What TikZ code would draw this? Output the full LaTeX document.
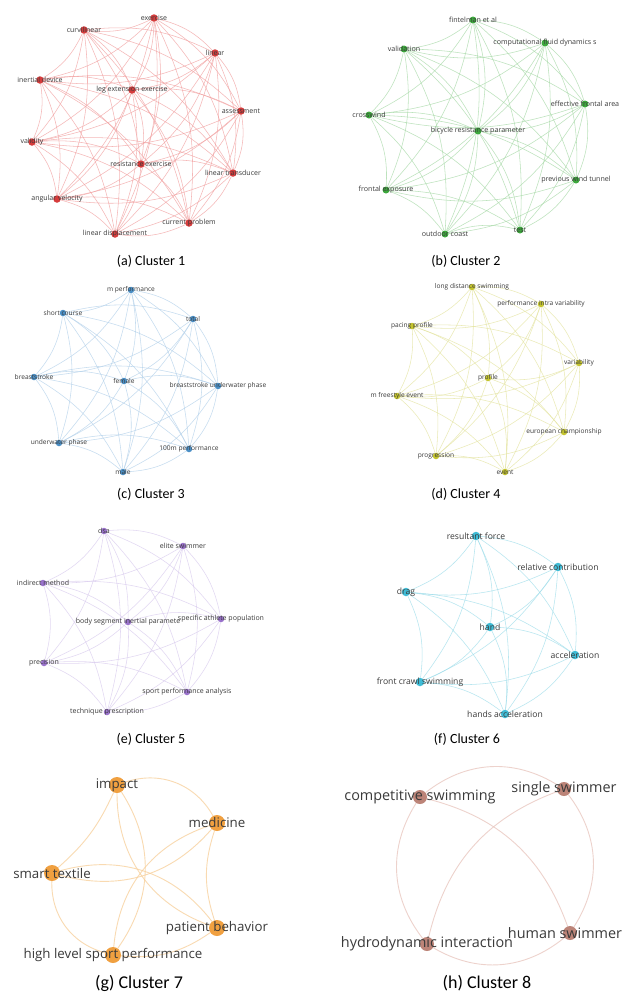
\documentclass[tikz,border=0pt]{standalone}
\usepackage{fontspec}
\setmainfont{Carlito}
\newfontfamily\osans{Open Sans}
\usetikzlibrary{backgrounds}
\pgfdeclarelayer{bgzero}
\pgfsetlayers{bgzero,background,main}
\definecolor{nA}{HTML}{D63C3C}\definecolor{eA}{HTML}{F2A0A0}
\definecolor{nB}{HTML}{3DA83D}\definecolor{eB}{HTML}{A6D9A6}
\definecolor{nC}{HTML}{4A8FC6}\definecolor{eC}{HTML}{B2D0EA}
\definecolor{nD}{HTML}{C4C42E}\definecolor{eD}{HTML}{E4E4A0}
\definecolor{nE}{HTML}{9A72CC}\definecolor{eE}{HTML}{D8CAEE}
\definecolor{nF}{HTML}{3FBCD6}\definecolor{eF}{HTML}{9EDDEA}
\definecolor{nG}{HTML}{F0A040}\definecolor{eG}{HTML}{F7CE98}
\definecolor{nH}{HTML}{BC8478}\definecolor{eH}{HTML}{E8C4BC}
\definecolor{labc}{HTML}{3A3A3A}
\newcommand\fullgraph[2]{%
  \foreach \pa [count=\pi] in {#2}{%
    \foreach \pb [count=\pj] in {#2}{%
      \ifnum\pj>\pi \draw[#1] (\pa) to[bend left=16] (\pb);\fi}}}
\tikzset{
  dot/.style={circle,inner sep=0pt,fill=#1},
  lab/.style={text=labc,inner sep=0pt,font=\osans\fontsize{#1}{#1}\selectfont},
  edge/.style={draw=#1,line width=0.55pt,opacity=0.75},
  capt/.style={font=\fontsize{#1}{#1}\selectfont,text=black,inner sep=0pt},
}
\begin{document}
\begin{tikzpicture}[x=1pt,y=-1pt]
\begin{pgfonlayer}{bgzero}
\fill[white] (0,0) rectangle (625,994);
\end{pgfonlayer}
\useasboundingbox (0,0) rectangle (625,994);
% ---------- Cluster 1
\tikzset{dA/.style={dot=nA,minimum size=7.5pt,label={[lab=7.0]center:#1}}}
\node[dA=exercise] (a1) at (154,18) {};
\node[dA=curvilinear] (a2) at (84,30) {};
\node[dA=linear] (a3) at (215,53) {};
\node[dA=inertial device] (a4) at (40,80) {};
\node[dA=leg extension exercise] (a5) at (132,90) {};
\node[dA=assessment] (a6) at (241,111) {};
\node[dA=validity] (a7) at (32,142) {};
\node[dA=resistance exercise] (a8) at (141,164) {};
\node[dA=linear transducer] (a9) at (233,173) {};
\node[dA=angular velocity] (a10) at (57,199) {};
\node[dA=current problem] (a11) at (189,223) {};
\node[dA=linear displacement] (a12) at (115,234) {};
% ---------- Cluster 2
\tikzset{dB/.style={dot=nB,minimum size=7pt,label={[lab=7.1]center:#1}}}
\node[dB=fintelman et al] (b1) at (473,20) {};
\node[dB=computational fluid dynamics s] (b2) at (545,43) {};
\node[dB=validation] (b3) at (404,49) {};
\node[dB=effective frontal area] (b4) at (585,104) {};
\node[dB=crosswind] (b5) at (369,115) {};
\node[dB=bicycle resistance parameter] (b6) at (478,131) {};
\node[dB=previous wind tunnel] (b7) at (576,180) {};
\node[dB=frontal exposure] (b8) at (386,190) {};
\node[dB=outdoor coast] (b9) at (445,234) {};
\node[dB=test] (b10) at (520,230) {};
% ---------- Cluster 3
\tikzset{dC/.style={dot=nC,minimum size=6.5pt,label={[lab=6.6]center:#1}}}
\node[dC=m performance] (c1) at (131,290) {};
\node[dC=short course] (c2) at (63,313) {};
\node[dC=total] (c3) at (193,319) {};
\node[dC=breaststroke] (c4) at (34,377) {};
\node[dC=female] (c5) at (124,381) {};
\node[dC=breaststroke underwater phase] (c6) at (218,386) {};
\node[dC=underwater phase] (c7) at (59,443) {};
\node[dC=100m performance] (c8) at (189,449) {};
\node[dC=male] (c9) at (123,472) {};
% ---------- Cluster 4
\tikzset{dD/.style={dot=nD,minimum size=6.5pt,label={[lab=6.6]center:#1}}}
\node[dD=long distance swimming] (d1) at (472,287) {};
\node[dD=performance intra variability] (d2) at (541,304) {};
\node[dD=pacing profile] (d3) at (412,326) {};
\node[dD=variability] (d4) at (579,363) {};
\node[dD=profile] (d5) at (488,378) {};
\node[dD=m freestyle event] (d6) at (397,396) {};
\node[dD=european championship] (d7) at (564,432) {};
\node[dD=progression] (d8) at (436,456) {};
\node[dD=event] (d9) at (505,472) {};
% ---------- Cluster 5
\tikzset{dE/.style={dot=nE,minimum size=6.5pt,label={[lab=7.0]center:#1}}}
\node[dE=dsa] (e1) at (104,531) {};
\node[dE=elite swimmer] (e2) at (183,546) {};
\node[dE=indirect method] (e3) at (43,583) {};
\node[dE=body segment inertial paramete] (e4) at (128,622) {};
\node[dE=specific athlete population] (e5) at (221,619) {};
\node[dE=precision] (e6) at (44,663) {};
\node[dE=sport performance analysis] (e7) at (187,692) {};
\node[dE=technique prescription] (e8) at (107,712) {};
% ---------- Cluster 6
\tikzset{dF/.style={dot=nF,minimum size=8.5pt,label={[lab=8.6]center:#1}}}
\node[dF=resultant force] (f1) at (476,536) {};
\node[dF=relative contribution] (f2) at (558,567) {};
\node[dF=drag] (f3) at (406,592) {};
\node[dF=hand] (f4) at (490,627) {};
\node[dF=acceleration] (f5) at (575,655) {};
\node[dF=front crawl swimming] (f6) at (420,682) {};
\node[dF=hands acceleration] (f7) at (505,714) {};
% ---------- Cluster 7
\tikzset{dG/.style={dot=nG,minimum size=16pt,label={[lab=13.3]center:#1}}}
\node[dG=impact] (g1) at (117,785) {};
\node[dG=medicine] (g2) at (217,823) {};
\node[dG=smart textile] (g3) at (52,873) {};
\node[dG=patient behavior] (g4) at (217,928) {};
\node[dG=high level sport performance] (g5) at (113,955) {};
% ---------- Cluster 8
\tikzset{dH/.style={dot=nH,minimum size=14pt,label={[lab=14.4]center:#1}}}
\node[dH=competitive swimming] (h1) at (420,797) {};
\node[dH=single swimmer] (h2) at (564,789) {};
\node[dot=nH,minimum size=14pt,label={[lab=14.4,xshift=-5pt]center:human swimmer}] (h3) at (570,933) {};
\node[dH=hydrodynamic interaction] (h4) at (427,944) {};
% ---------- edges
\begin{pgfonlayer}{background}
\fullgraph{edge=eA}{a1,a2,a3,a4,a5,a6,a7,a8,a9,a10,a11,a12}
\fullgraph{edge=eB}{b1,b2,b3,b4,b5,b6,b7,b8,b9,b10}
\fullgraph{edge=eC}{c1,c2,c3,c4,c5,c6,c7,c8,c9}
\fullgraph{edge=eD}{d1,d2,d3,d4,d5,d6,d7,d8,d9}
\fullgraph{edge=eE}{e1,e2,e3,e4,e5,e6,e7,e8}
\fullgraph{edge=eF}{f1,f2,f3,f4,f5,f6,f7}
\begin{scope}[edge=eG,line width=0.9pt]
\draw (g1) to[bend left=40] (g2);
\draw (g2) to[bend right=18] (g4);
\draw (g4) to[bend left=20] (g5);
\draw (g5) to[bend left=38] (g3);
\draw (g3) to[bend right=12] (g1);
\draw (g1) to[bend right=35] (g4);
\draw (g1) to[bend left=34] (g5);
\draw (g3) to[bend right=32] (g2);
\draw (g3) to[bend left=34] (g4);
\draw (g2) to[bend right=33] (g5);
\end{scope}
\begin{scope}[edge=eH,line width=0.9pt]
\draw (h1) to[bend left=35] (h2);
\draw (h2) to[bend left=35] (h3);
\draw (h3) to[bend left=35] (h4);
\draw (h4) to[bend left=35] (h1);
\draw (h1) to[bend left=28] (h3);
\draw (h2) to[bend right=28] (h4);
\end{scope}
\end{pgfonlayer}
% ---------- captions
\node[capt=14] (capa) at (151,261) {(a) Cluster 1};
\node[capt=14] (capb) at (466,261) {(b) Cluster 2};
\node[capt=14] (capc) at (151,494) {(c) Cluster 3};
\node[capt=14] (capd) at (466,494) {(d) Cluster 4};
\node[capt=14] (cape) at (151,739) {(e) Cluster 5};
\node[capt=14] (capf) at (467,739) {(f) Cluster 6};
\node[capt=18] (capg) at (139,983) {(g) Cluster 7};
\node[capt=18] (caph) at (487,983) {(h) Cluster 8};
\end{tikzpicture}
\end{document}
